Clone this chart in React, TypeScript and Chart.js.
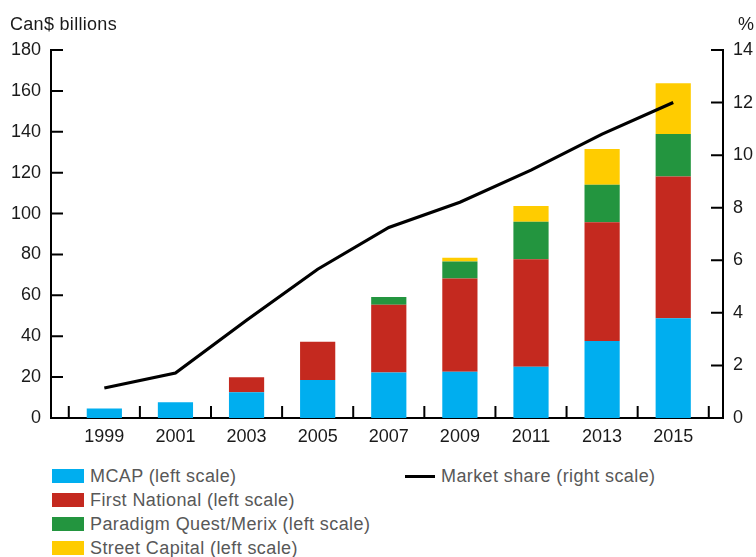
import React, { useEffect, useRef } from "react";
import { Chart, registerables } from "chart.js";

Chart.register(...registerables);

const years = [1999, 2001, 2003, 2005, 2007, 2009, 2011, 2013, 2015];
const xTickMarks = [1998, 2000, 2002, 2004, 2006, 2008, 2010, 2012, 2014, 2016];

const mcap = [4.6, 7.7, 12.6, 18.6, 22.3, 22.6, 25.1, 37.7, 48.8];
const firstNational = [0, 0, 7.3, 18.7, 33.1, 45.6, 52.5, 58.0, 69.3];
const paradigm = [0, 0, 0, 0, 3.8, 8.3, 18.4, 18.4, 20.8];
const streetCapital = [0, 0, 0, 0, 0, 1.9, 7.7, 17.5, 24.8];
const marketShare = [1.14, 1.71, 3.72, 5.66, 7.25, 8.21, 9.43, 10.8, 12.0];

const leftTicks = [0, 20, 40, 60, 80, 100, 120, 140, 160, 180];
const rightTicks = [0, 2, 4, 6, 8, 10, 12, 14];

const barSeries = [
  { label: "MCAP (left scale)", values: mcap, color: "#00AEEF" },
  { label: "First National (left scale)", values: firstNational, color: "#C4291F" },
  { label: "Paradigm Quest/Merix (left scale)", values: paradigm, color: "#23953F" },
  { label: "Street Capital (left scale)", values: streetCapital, color: "#FFCC00" },
];
const lineLabel = "Market share (right scale)";

const FONT = "'Liberation Sans', Arial, Helvetica, sans-serif";

const innerTicks = {
  id: "innerTicks",
  afterDraw(chart: any) {
    const { ctx, chartArea, scales } = chart;
    const len = 12;
    ctx.save();
    ctx.strokeStyle = "#000";
    ctx.lineWidth = 2;
    ctx.beginPath();
    for (const v of leftTicks) {
      const p = scales.y.getPixelForValue(v);
      ctx.moveTo(chartArea.left, p);
      ctx.lineTo(chartArea.left + len, p);
    }
    for (const v of rightTicks) {
      const p = scales.y1.getPixelForValue(v);
      ctx.moveTo(chartArea.right, p);
      ctx.lineTo(chartArea.right - len, p);
    }
    for (const v of xTickMarks) {
      const p = scales.x.getPixelForValue(v);
      ctx.moveTo(p, chartArea.bottom);
      ctx.lineTo(p, chartArea.bottom - len);
    }
    ctx.stroke();
    ctx.restore();
  },
};

export default function App() {
  const ref = useRef<HTMLCanvasElement | null>(null);

  useEffect(() => {
    if (!ref.current) return;
    const datasets: any[] = barSeries.map((s) => ({
      type: "bar",
      label: s.label,
      data: years.map((yr, i) => ({ x: yr, y: s.values[i] })),
      backgroundColor: s.color,
      borderWidth: 0,
      yAxisID: "y",
      order: 1,
      categoryPercentage: 0.99,
      barPercentage: 0.5,
    }));
    datasets.push({
      type: "line",
      label: lineLabel,
      data: years.map((yr, i) => ({ x: yr, y: marketShare[i] })),
      borderColor: "#000",
      backgroundColor: "#000",
      borderWidth: 3.2,
      pointRadius: 0,
      tension: 0,
      yAxisID: "y1",
      order: 0,
    });

    const tickFont = { family: FONT, size: 18 };
    const chart = new Chart(ref.current, {
      type: "bar",
      data: { datasets },
      plugins: [innerTicks],
      options: {
        animation: false,
        responsive: false,
        layout: { padding: { top: 50, left: 0, right: 0, bottom: 0 } },
        plugins: { legend: { display: false }, tooltip: { enabled: false } },
        scales: {
          x: {
            type: "linear",
            stacked: true,
            offset: false,
            min: 1997.5,
            max: 2016.4,
            afterBuildTicks: (scale: any) => {
              scale.ticks = years.map((v) => ({ value: v }));
            },
            afterFit: (scale: any) => {
              scale.height = 42;
            },
            grid: { display: false, drawTicks: false, offset: false },
            border: { display: true, color: "#000", width: 2 },
            ticks: {
              autoSkip: false,
              maxRotation: 0,
              padding: 8,
              color: "#1a1a1a",
              font: tickFont,
              callback: (v: any) => String(v),
            },
          },
          y: {
            type: "linear",
            position: "left",
            stacked: true,
            min: 0,
            max: 180,
            afterBuildTicks: (scale: any) => {
              scale.ticks = leftTicks.map((v) => ({ value: v }));
            },
            afterFit: (scale: any) => {
              scale.width = 51;
            },
            grid: { display: false, drawTicks: false },
            border: { display: true, color: "#000", width: 2 },
            ticks: { padding: 10, color: "#1a1a1a", font: tickFont, callback: (v: any) => String(v) },
          },
          y1: {
            type: "linear",
            position: "right",
            min: 0,
            max: 14,
            afterBuildTicks: (scale: any) => {
              scale.ticks = rightTicks.map((v) => ({ value: v }));
            },
            afterFit: (scale: any) => {
              scale.width = 33;
            },
            grid: { display: false, drawTicks: false },
            border: { display: true, color: "#000", width: 2 },
            ticks: { padding: 10, color: "#1a1a1a", font: tickFont, callback: (v: any) => String(v) },
          },
        },
      } as any,
    });
    return () => chart.destroy();
  }, []);

  const legendText: React.CSSProperties = {
    fontFamily: FONT,
    fontSize: 18,
    letterSpacing: 0.4,
    color: "#585858",
    lineHeight: "24px",
    whiteSpace: "nowrap",
  };

  return (
    <div style={{ position: "fixed", left: 0, top: 0, width: 756, height: 557, background: "#fff", overflow: "hidden" }}>
      <canvas ref={ref} width={756} height={460} style={{ position: "absolute", left: 0, top: 0, width: 756, height: 460 }} />
      <div style={{ position: "absolute", left: 10, top: 15, fontFamily: FONT, fontSize: 18, letterSpacing: 0.3, lineHeight: "18px", color: "#1a1a1a" }}>
        Can$ billions
      </div>
      <div style={{ position: "absolute", left: 738, top: 15, fontFamily: FONT, fontSize: 18, lineHeight: "18px", color: "#1a1a1a" }}>
        %
      </div>
      <div style={{ position: "absolute", left: 52, top: 464 }}>
        {barSeries.map((s) => (
          <div key={s.label} style={{ display: "flex", alignItems: "center", height: 24 }}>
            <div style={{ width: 32, height: 14, background: s.color, marginRight: 6 }} />
            <span style={legendText}>{s.label}</span>
          </div>
        ))}
      </div>
      <div style={{ position: "absolute", left: 405, top: 464 }}>
        <div style={{ display: "flex", alignItems: "center", height: 24 }}>
          <div style={{ width: 30, height: 3, background: "#000", marginRight: 6 }} />
          <span style={legendText}>{lineLabel}</span>
        </div>
      </div>
    </div>
  );
}
